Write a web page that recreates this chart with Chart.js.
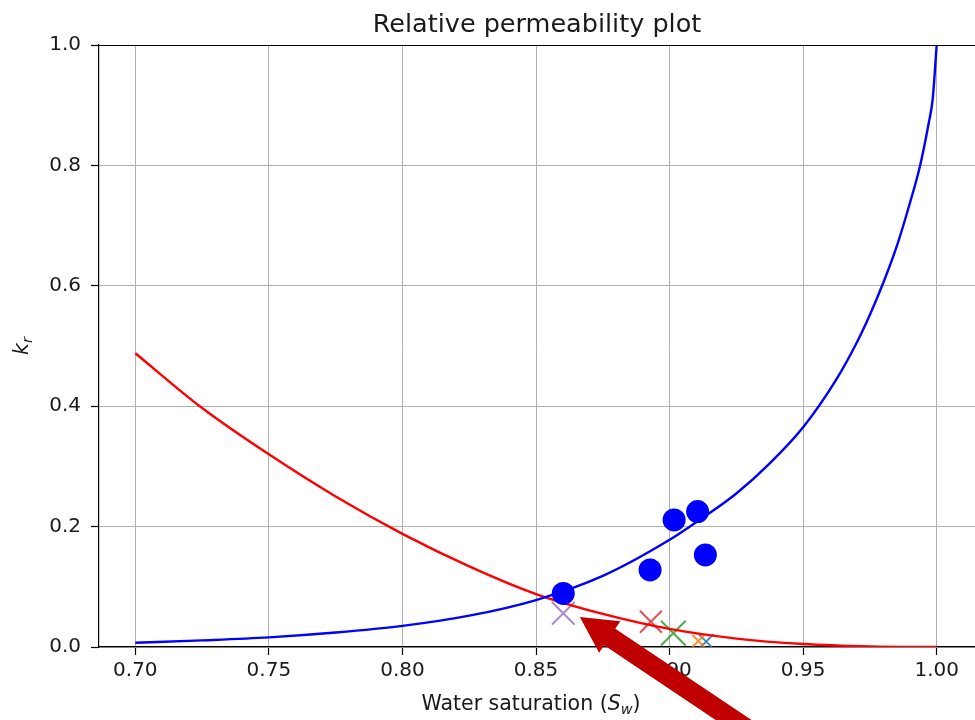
<!DOCTYPE html>
<html><head><meta charset="utf-8">
<script src="https://cdn.jsdelivr.net/npm/chart.js@4"></script>
<style>html,body{margin:0;padding:0;background:#fff;overflow:hidden}</style>
</head><body>
<canvas id="c" width="975" height="720"></canvas>
<script>
// ---- text ----
const TITLE = "Relative permeability plot";
const X_LABEL_PARTS = ["Water saturation (", "S", "w", ")"];
const Y_LABEL_PARTS = ["k", "r"];
// ---- ticks ----
const X_TICKS = [0.70, 0.75, 0.80, 0.85, 0.90, 0.95, 1.00];
const Y_TICKS = [0.0, 0.2, 0.4, 0.6, 0.8, 1.0];
// ---- water relative permeability curve (blue) ----
const SW_KRW = [0.700, 0.725, 0.750, 0.775, 0.800, 0.825, 0.850, 0.875, 0.900, 0.9125, 0.925, 0.9375, 0.950, 0.9625, 0.970, 0.975, 0.980, 0.985, 0.990, 0.9938, 0.997, 0.9985, 1.000];
const KRW    = [0.007, 0.011, 0.016, 0.024, 0.035, 0.052, 0.078, 0.118, 0.178, 0.215,  0.255, 0.305,  0.365, 0.445,  0.505, 0.552, 0.605, 0.665, 0.738, 0.800,  0.870, 0.910,  1.000];
// ---- oil relative permeability curve (red) ----
const SW_KRO = [0.700, 0.725, 0.750, 0.775, 0.800, 0.825, 0.850, 0.875, 0.900, 0.925, 0.950, 0.975, 1.000];
const KRO    = [0.488, 0.397, 0.320, 0.250, 0.188, 0.134, 0.088, 0.055, 0.030, 0.014, 0.005, 0.001, 0.000];
// ---- measured points (blue circles) ----
const MEAS_SW  = [0.8602, 0.8927, 0.9017, 0.9105, 0.9134];
const MEAS_KRW = [0.089, 0.128, 0.211, 0.225, 0.153];
// ---- cross markers ----
const CROSS_SW = [0.8602, 0.8930, 0.9014, 0.9108, 0.9137];
const CROSS_KR = [0.056, 0.042, 0.023, 0.010, 0.009];
const CROSS_COLORS = ['rgba(148,103,189,0.8)', 'rgba(214,39,40,0.8)', 'rgba(44,160,44,0.85)', 'rgba(255,127,14,0.85)', 'rgba(31,119,180,0.85)'];
const CROSS_SIZE = [16, 15.5, 17.5, 8.5, 10.5];
// ---- annotation arrow (data coords) ----
const ARROW_TIP  = [0.8664, 0.050];
const ARROW_TAIL = [0.9409, -0.1716];

const FONT = "'DejaVu Sans', sans-serif";
const TXT = '#1a1a1a';

const pts = (xs, ys) => xs.map((x, i) => ({x, y: ys[i]}));

const crossDatasets = CROSS_SW.map((x, i) => ({
  type: 'scatter',
  data: [{x, y: CROSS_KR[i]}],
  pointStyle: 'crossRot',
  pointRadius: CROSS_SIZE[i],
  borderColor: CROSS_COLORS[i],
  backgroundColor: CROSS_COLORS[i],
  borderWidth: 2,
  order: 3
}));

const decor = {
  id: 'decor',
  afterDraw(chart) {
    const {ctx, chartArea: a, scales: {x: xs, y: ys}} = chart;
    ctx.save();
    // top spine
    ctx.strokeStyle = '#000'; ctx.lineWidth = 1.2;
    ctx.beginPath(); ctx.moveTo(a.left, a.top + 0.5); ctx.lineTo(a.right, a.top + 0.5); ctx.stroke();
    const cx = (a.left + a.right) / 2;
    // title
    ctx.fillStyle = TXT; ctx.textAlign = 'center'; ctx.textBaseline = 'alphabetic';
    ctx.font = `25.5px ${FONT}`;
    ctx.fillText(TITLE, cx, 32);
    // x label with italic S and subscript w
    const fMain = `20.5px ${FONT}`, fIt = `italic 20.5px ${FONT}`, fSub = `italic 14.5px ${FONT}`;
    ctx.textAlign = 'left';
    ctx.font = fMain; const w0 = ctx.measureText(X_LABEL_PARTS[0]).width;
    ctx.font = fIt;   const w1 = ctx.measureText(X_LABEL_PARTS[1]).width;
    ctx.font = fSub;  const w2 = ctx.measureText(X_LABEL_PARTS[2]).width;
    ctx.font = fMain; const w3 = ctx.measureText(X_LABEL_PARTS[3]).width;
    let x0 = cx - 6 - (w0 + w1 + w2 + w3) / 2; const by = 710;
    ctx.font = fMain; ctx.fillText(X_LABEL_PARTS[0], x0, by); x0 += w0;
    ctx.font = fIt;   ctx.fillText(X_LABEL_PARTS[1], x0, by); x0 += w1;
    ctx.font = fSub;  ctx.fillText(X_LABEL_PARTS[2], x0, by + 4); x0 += w2;
    ctx.font = fMain; ctx.fillText(X_LABEL_PARTS[3], x0, by);
    // y label rotated
    ctx.save();
    ctx.translate(28, (a.top + a.bottom) / 2);
    ctx.rotate(-Math.PI / 2);
    ctx.font = fIt; const k0 = ctx.measureText(Y_LABEL_PARTS[0]).width;
    ctx.font = fSub; const k1 = ctx.measureText(Y_LABEL_PARTS[1]).width;
    let yx = -(k0 + k1) / 2;
    ctx.font = fIt; ctx.fillText(Y_LABEL_PARTS[0], yx, 0); yx += k0;
    ctx.font = fSub; ctx.fillText(Y_LABEL_PARTS[1], yx, 4);
    ctx.restore();
    // arrow
    const tx = xs.getPixelForValue(ARROW_TIP[0]), ty = ys.getPixelForValue(ARROW_TIP[1]);
    const ex = xs.getPixelForValue(ARROW_TAIL[0]), ey = ys.getPixelForValue(ARROW_TAIL[1]);
    const len = Math.hypot(ex - tx, ey - ty);
    const ux = (ex - tx) / len, uy = (ey - ty) / len;
    const nx = -uy, ny = ux;
    const HL = 36, HW = 19, SW = 10;
    const bx = tx + ux * HL, byy = ty + uy * HL;
    ctx.fillStyle = '#c00000';
    ctx.beginPath();
    ctx.moveTo(tx, ty);
    ctx.lineTo(bx + nx * HW, byy + ny * HW);
    ctx.lineTo(bx + nx * SW, byy + ny * SW);
    ctx.lineTo(ex + nx * SW, ey + ny * SW);
    ctx.lineTo(ex - nx * SW, ey - ny * SW);
    ctx.lineTo(bx - nx * SW, byy - ny * SW);
    ctx.lineTo(bx - nx * HW, byy - ny * HW);
    ctx.closePath();
    ctx.fill();
    ctx.restore();
  }
};

new Chart(document.getElementById('c'), {
  type: 'scatter',
  data: {
    datasets: [
      {
        type: 'scatter', data: pts(MEAS_SW, MEAS_KRW),
        pointStyle: 'circle', pointRadius: 11.5, backgroundColor: '#0000ff', borderColor: '#0000ff', borderWidth: 0,
        order: 1
      },
      {
        type: 'line', data: pts(SW_KRW, KRW), borderColor: '#0000ff', borderWidth: 2.4,
        pointRadius: 0, fill: false, cubicInterpolationMode: 'monotone', order: 2
      },
      {
        type: 'line', data: pts(SW_KRO, KRO), borderColor: '#ff0000', borderWidth: 2.4,
        pointRadius: 0, fill: false, cubicInterpolationMode: 'monotone', order: 2
      },
      ...crossDatasets
    ]
  },
  options: {
    responsive: false,
    animation: false,
    devicePixelRatio: 1,
    layout: {autoPadding: false, padding: {top: 45, right: 0, bottom: 0, left: 0}},
    plugins: {legend: {display: false}, tooltip: {enabled: false}, title: {display: false}},
    scales: {
      x: {
        type: 'linear', min: 0.6864, max: 1.01434,
        afterBuildTicks: s => { s.ticks = X_TICKS.map(v => ({value: v})); },
        afterFit: s => { s.height = 73; s.paddingLeft = 0; s.paddingRight = 0; },
        ticks: {callback: v => Number(v).toFixed(2), font: {family: FONT, size: 20}, color: TXT, padding: 4, maxRotation: 0, autoSkip: false},
        grid: {color: '#b0b0b0', lineWidth: 1, tickLength: 8, tickColor: '#000', tickWidth: 1.2},
        border: {color: '#000', width: 1.2}
      },
      y: {
        type: 'linear', min: 0, max: 1,
        afterBuildTicks: s => { s.ticks = Y_TICKS.map(v => ({value: v})); },
        afterFit: s => { s.width = 99; s.paddingTop = 0; s.paddingBottom = 0; },
        ticks: {callback: v => Number(v).toFixed(1), font: {family: FONT, size: 20}, color: TXT, padding: 10, autoSkip: false},
        grid: {color: '#b0b0b0', lineWidth: 1, tickLength: 8, tickColor: '#000', tickWidth: 1.2},
        border: {color: '#000', width: 1.2}
      }
    }
  },
  plugins: [decor]
});
</script>
</body></html>
